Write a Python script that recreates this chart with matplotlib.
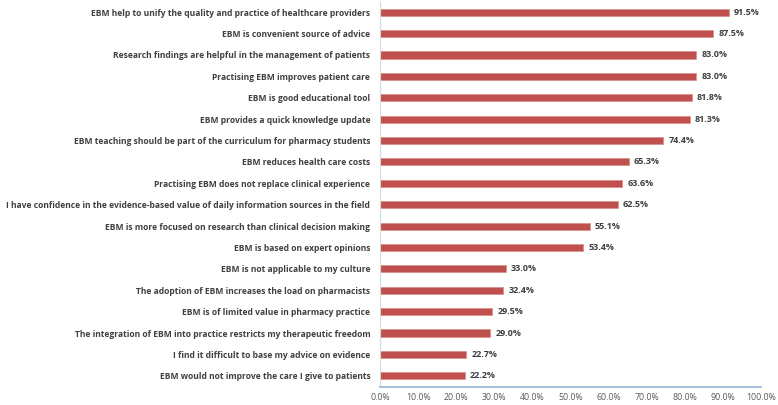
import matplotlib
matplotlib.use("Agg")
import matplotlib.pyplot as plt
from matplotlib.ticker import FuncFormatter, MultipleLocator

categories = [
    "EBM help to unify the quality and practice of healthcare providers",
    "EBM is convenient source of advice",
    "Research findings are helpful in the management of patients",
    "Practising EBM improves patient care",
    "EBM is good educational tool",
    "EBM provides a quick knowledge update",
    "EBM teaching should be part of the curriculum for pharmacy students",
    "EBM reduces health care costs",
    "Practising EBM does not replace clinical experience",
    "I have confidence in the evidence-based value of daily information sources in the field",
    "EBM is more focused on research than clinical decision making",
    "EBM is based on expert opinions",
    "EBM is not applicable to my culture",
    "The adoption of EBM increases the load on pharmacists",
    "EBM is of limited value in pharmacy practice",
    "The integration of EBM into practice restricts my therapeutic freedom",
    "I find it difficult to base my advice on evidence",
    "EBM would not improve the care I give to patients",
]
values = [91.5, 87.5, 83.0, 83.0, 81.8, 81.3, 74.4, 65.3, 63.6, 62.5,
          55.1, 53.4, 33.0, 32.4, 29.5, 29.0, 22.7, 22.2]

plt.rcParams['font.family'] = ['Open Sans', 'DejaVu Sans']

fig = plt.figure(figsize=(7.78, 4.05), dpi=100)
ax = fig.add_axes([380/778, 1-386.5/405, 381/778, 385/405])

n = len(categories)
ypos = list(range(n))
ax.barh(ypos, values, height=0.33, color="#C0504D", edgecolor="#D98C8A", linewidth=0.5)
ax.set_ylim(n - 0.5, -0.5)
ax.set_xlim(0, 100)
ax.set_yticks(ypos)
ax.set_yticklabels(categories, fontsize=6.1, fontweight='bold', color="#404040")
ax.xaxis.set_major_locator(MultipleLocator(10))
ax.xaxis.set_major_formatter(FuncFormatter(lambda v, p: f"{v:.1f}%"))
ax.tick_params(axis='x', labelsize=6.3, labelcolor="#595959", length=0, pad=5)
ax.tick_params(axis='y', length=0, pad=7)

for s in ['top', 'right']:
    ax.spines[s].set_visible(False)
ax.spines['left'].set_color("#D9D9D9")
ax.spines['left'].set_linewidth(0.8)
ax.spines['bottom'].set_color("#95B3D7")
ax.spines['bottom'].set_linewidth(1.2)

for y, v in zip(ypos, values):
    ax.text(v + 1.3, y, f"{v:.1f}%", va='center', ha='left', fontsize=6.5,
            fontweight='bold', color="#404040")

fig.savefig("out.png", dpi=100)
